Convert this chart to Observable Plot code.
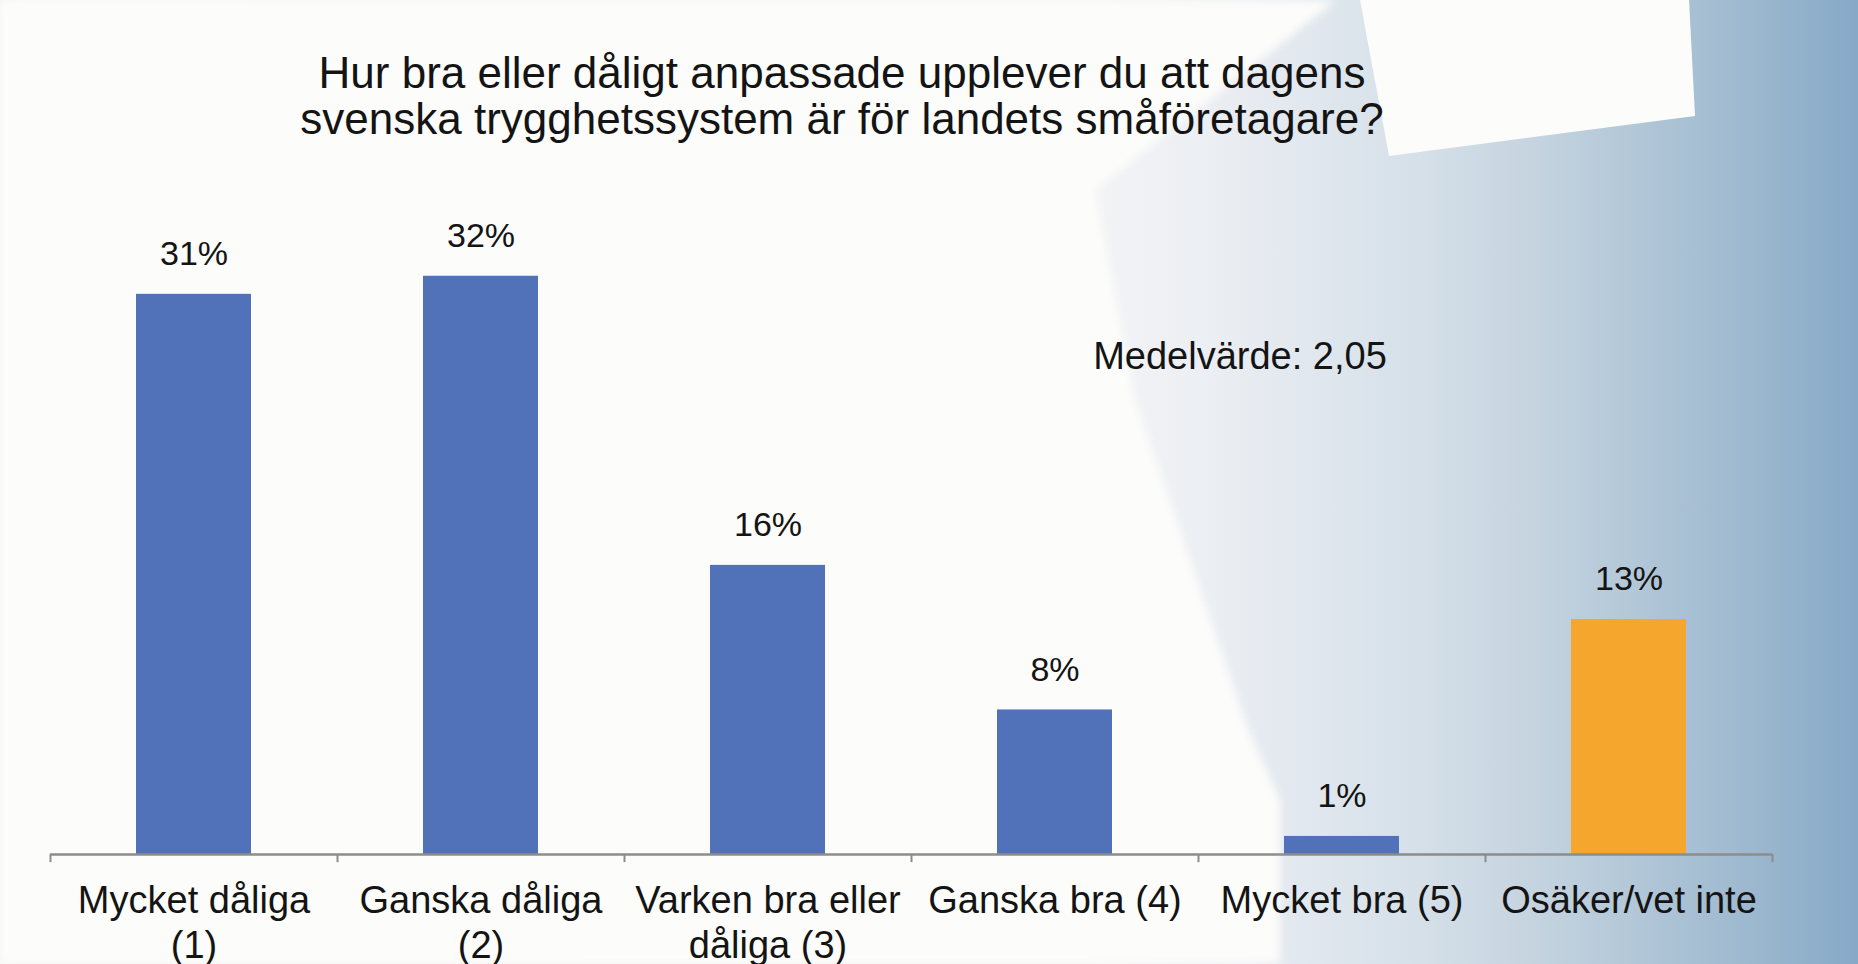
<!DOCTYPE html>
<html>
<head>
<meta charset="utf-8">
<script src="https://cdn.jsdelivr.net/npm/d3@7"></script>
<script src="https://cdn.jsdelivr.net/npm/@observablehq/plot@0.6"></script>
<style>
  html, body { margin: 0; padding: 0; }
  body { width: 1858px; height: 964px; overflow: hidden; font-family: "Liberation Sans", Arial, sans-serif; }
  #page { position: relative; width: 1858px; height: 964px;
    background: linear-gradient(to right, #f5f5f7 0px, #f4f4f6 1080px, #eceff3 1200px, #e2e8ef 1300px, #d5e0e8 1420px, #c6d4e0 1530px, #b5c9d9 1620px, #a3bcd1 1720px, #92b1cb 1800px, #86a9c7 1858px); }
  #paperWrap { position: absolute; inset: 0; filter: blur(5px); }
  #paper { position: absolute; inset: 0; background: #fcfcfa;
    clip-path: polygon(0 -20px, 1362px -20px, 1095px 190px, 1135px 400px, 1248px 730px, 1280px 800px, 1280px 990px, 0 990px); }
  #paper2 { position: absolute; inset: 0; background: #fcfcfa;
    clip-path: polygon(1360px 0, 1689px 0, 1695px 116px, 1389px 156px); }
  #title { position: relative; height: 160px; box-sizing: border-box; padding-top: 50px;
    text-align: center; font-size: 44px; line-height: 46px; color: #141414; width: 1684px; }
  #chart { position: relative; }
</style>
</head>
<body>
<div id="page">
  <div id="paperWrap"><div id="paper"></div></div>
  <div id="paper2"></div>
  <div id="title">Hur bra eller dåligt anpassade upplever du att dagens<br>svenska trygghetssystem är för landets småföretagare?</div>
  <div id="chart"></div>
</div>
<script>
const categories = ["Mycket dåliga (1)", "Ganska dåliga (2)", "Varken bra eller dåliga (3)", "Ganska bra (4)", "Mycket bra (5)", "Osäker/vet inte"];
const tickLabels = ["Mycket dåliga\n(1)", "Ganska dåliga\n(2)", "Varken bra eller\ndåliga (3)", "Ganska bra (4)", "Mycket bra (5)", "Osäker/vet inte"];
const values = [31, 32, 16, 8, 1, 13];
const barColors = ["#5171b8", "#5171b8", "#5171b8", "#5171b8", "#5171b8", "#f4a72c"];
const meanLabel = "Medelvärde: 2,05";

const data = categories.map((c, i) => ({cat: c, value: values[i], color: barColors[i], label: tickLabels[i]}));

const W = 1858, H = 804, mL = 50, mR = 86, mB = 110;
const pxPerPct = 18.07;
const yMax = 35;
const mT = H - mB - yMax * pxPerPct;
const step = (W - mL - mR) / categories.length;

const plot = Plot.plot({
  width: W, height: H,
  marginLeft: mL, marginRight: mR, marginTop: mT, marginBottom: mB,
  x: {domain: categories, paddingInner: 0.6, paddingOuter: 0.3, axis: null},
  y: {domain: [0, yMax], axis: null},
  color: {type: "identity"},
  style: {background: "transparent", fontFamily: "'Liberation Sans', Arial, sans-serif", overflow: "visible"},
  marks: [
    Plot.barY(data, {x: "cat", y: "value", fill: "color"}),
    Plot.ruleY([0], {stroke: "#8c8c8c", strokeWidth: 2.5}),
    Plot.ruleX(categories, {x: d => d, y1: 0, y2: -0.45, dx: -step / 2, stroke: "#8c8c8c", strokeWidth: 2}),
    Plot.ruleX([categories[categories.length - 1]], {x: d => d, y1: 0, y2: -0.45, dx: step / 2, stroke: "#8c8c8c", strokeWidth: 2}),
    Plot.text(data, {x: "cat", y: "value", text: d => d.value + "%", lineAnchor: "middle", dy: -40, fontSize: 34, fill: "#141414"}),
    Plot.text(data, {x: "cat", y: 0, text: "label", lineAnchor: "top", dy: 27, fontSize: 38, lineHeight: 1.18, fill: "#141414"}),
    Plot.text([meanLabel], {x: () => categories[4], y: () => 27.56, text: d => d, dx: -102, lineAnchor: "middle", fontSize: 38, fill: "#141414"})
  ]
});
document.getElementById("chart").appendChild(plot);
</script>
</body>
</html>
